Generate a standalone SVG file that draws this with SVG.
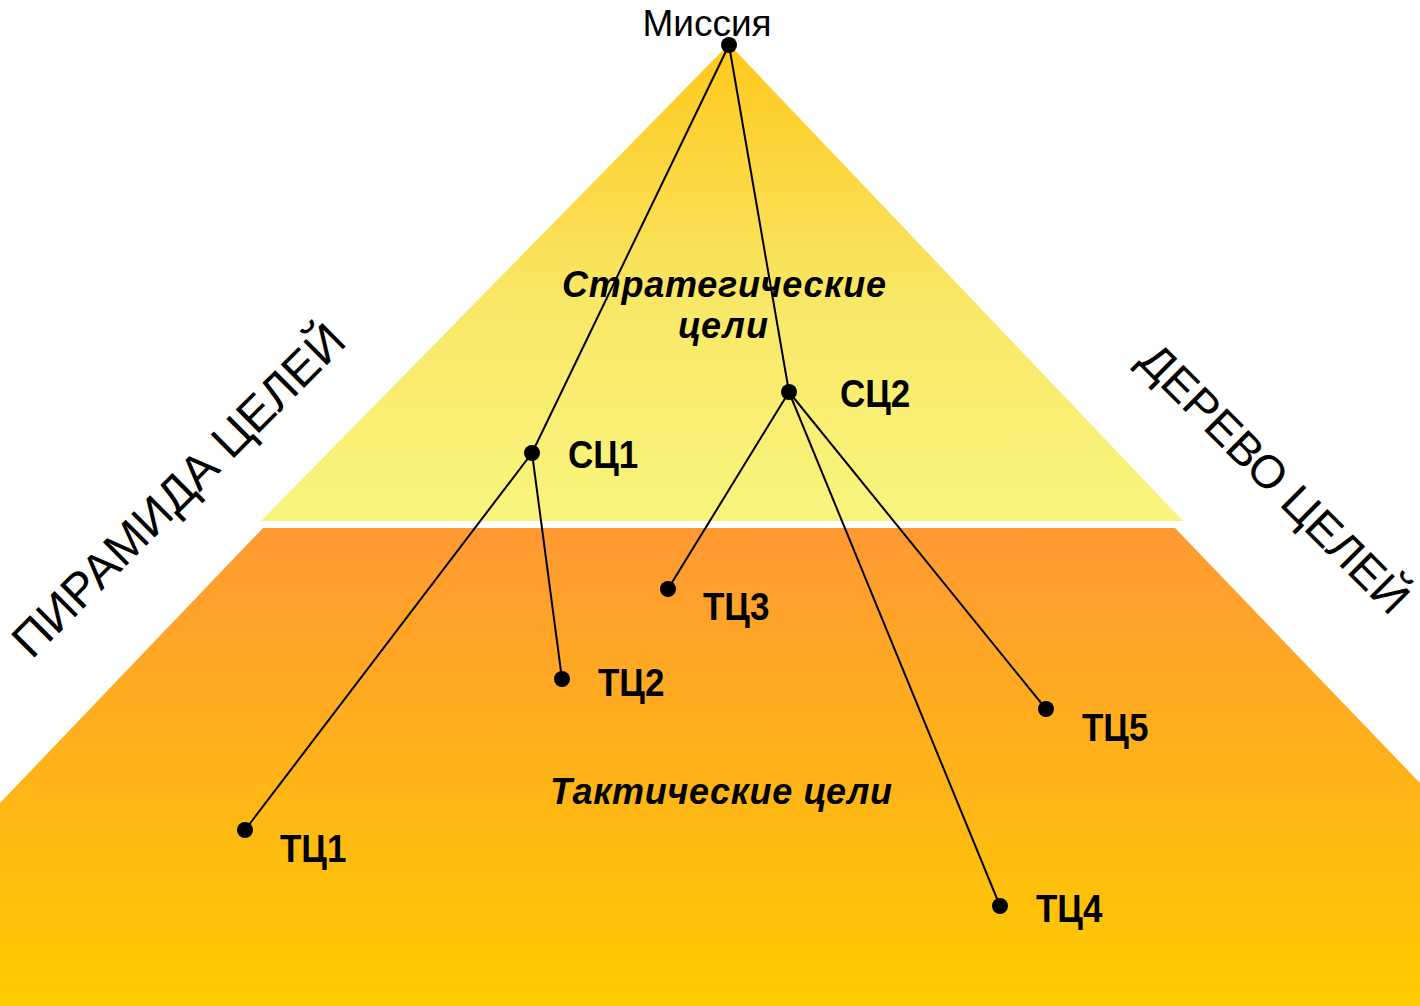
<svg xmlns="http://www.w3.org/2000/svg" width="1420" height="1006" viewBox="0 0 1420 1006">
<defs>
<linearGradient id="gTop" gradientUnits="userSpaceOnUse" x1="0" y1="44" x2="0" y2="521">
<stop offset="0" stop-color="#FFC81C"/>
<stop offset="0.55" stop-color="#F9E868"/>
<stop offset="1" stop-color="#F8F57E"/>
</linearGradient>
<linearGradient id="gBot" gradientUnits="userSpaceOnUse" x1="0" y1="528" x2="0" y2="1006">
<stop offset="0" stop-color="#FF9933"/>
<stop offset="1" stop-color="#FFCC00"/>
</linearGradient>
<style>
.lbl{font-family:"Liberation Sans",Arial,sans-serif;font-weight:bold;font-size:35px;fill:#000}
.zone{font-family:"Liberation Sans",Arial,sans-serif;font-weight:bold;font-style:italic;font-size:36px;fill:#000;text-anchor:middle}
.side{font-family:"Liberation Sans",Arial,sans-serif;font-size:48px;fill:#000;text-anchor:middle}
.title{font-family:"Liberation Sans",Arial,sans-serif;font-size:37px;fill:#000;text-anchor:middle}
.edge{stroke:#000;stroke-width:2;fill:none}
.dot{fill:#000}
</style>
</defs>
<g id="background">
<polygon points="729,44 261,521 1183,521" fill="url(#gTop)"/>
<polygon points="263,528 1175,528 1420,783 1420,1006 0,1006 0,803" fill="url(#gBot)"/>
</g>
<g id="zones">
<text class="zone" x="724" y="297" textLength="324" lengthAdjust="spacing">Стратегические</text>
<text class="zone" x="723" y="338" textLength="90" lengthAdjust="spacing">цели</text>
<text class="zone" x="721" y="804" textLength="342" lengthAdjust="spacing">Тактические цели</text>
</g>
<g id="side-labels">
<text class="side" transform="translate(178,490) rotate(-45)" x="0" y="17">ПИРАМИДА ЦЕЛЕЙ</text>
<text class="side" style="font-size:46px" transform="translate(1275,478) rotate(45)" x="0" y="16.5">ДЕРЕВО ЦЕЛЕЙ</text>
</g>
<g id="connectors">
<line class="edge" x1="729" y1="45" x2="532" y2="453"/>
<line class="edge" x1="729" y1="45" x2="789" y2="392"/>
<line class="edge" x1="532" y1="453" x2="245" y2="830"/>
<line class="edge" x1="532" y1="453" x2="562" y2="679"/>
<line class="edge" x1="789" y1="392" x2="668" y2="589"/>
<line class="edge" x1="789" y1="392" x2="1000" y2="906"/>
<line class="edge" x1="789" y1="392" x2="1046" y2="709"/>
</g>
<g id="node-mission">
<circle class="dot" cx="729" cy="45" r="8"/>
<text class="title" x="707" y="36">Миссия</text>
</g>
<g id="node-sc1">
<circle class="dot" cx="532" cy="453" r="8"/>
<text class="lbl" transform="translate(568,468) scale(1,1.1)">СЦ1</text>
</g>
<g id="node-sc2">
<circle class="dot" cx="789" cy="392" r="8"/>
<text class="lbl" transform="translate(840,407) scale(1,1.1)">СЦ2</text>
</g>
<g id="node-tc1">
<circle class="dot" cx="245" cy="830" r="8"/>
<text class="lbl" transform="translate(280,862) scale(1,1.1)">ТЦ1</text>
</g>
<g id="node-tc2">
<circle class="dot" cx="562" cy="679" r="8"/>
<text class="lbl" transform="translate(598,696) scale(1,1.1)">ТЦ2</text>
</g>
<g id="node-tc3">
<circle class="dot" cx="668" cy="589" r="8"/>
<text class="lbl" transform="translate(703,620) scale(1,1.1)">ТЦ3</text>
</g>
<g id="node-tc4">
<circle class="dot" cx="1000" cy="906" r="8"/>
<text class="lbl" transform="translate(1036,922) scale(1,1.1)">ТЦ4</text>
</g>
<g id="node-tc5">
<circle class="dot" cx="1046" cy="709" r="8"/>
<text class="lbl" transform="translate(1082,741) scale(1,1.1)">ТЦ5</text>
</g>
</svg>
